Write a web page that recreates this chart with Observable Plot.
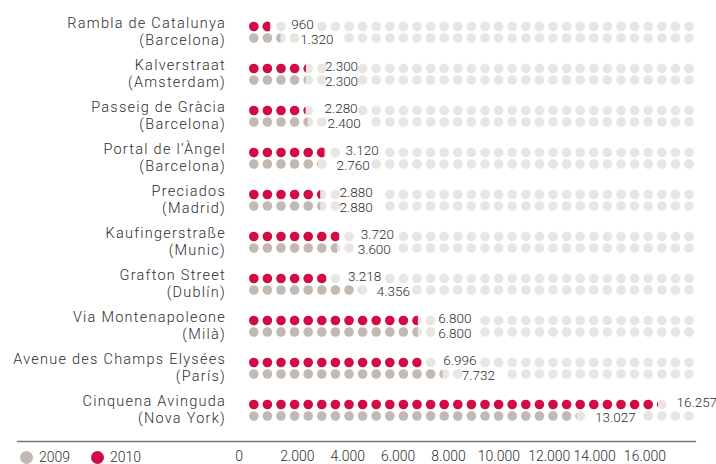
<!DOCTYPE html>
<html>
<head>
<meta charset="utf-8">
<script src="https://cdn.jsdelivr.net/npm/d3@7"></script>
<script src="https://cdn.jsdelivr.net/npm/@observablehq/plot@0.6"></script>
<style>
  html, body { margin: 0; padding: 0; background: #fff; }
  #wrap { position: relative; width: 716px; height: 464px; overflow: hidden; font-family: Roboto, sans-serif; }
  #legend { position: absolute; left: 20px; top: 449px; display: flex; align-items: center; font: 300 14px Roboto, sans-serif; color: #333; }
  #legend .item { display: flex; align-items: center; margin-right: 21px; }
  #legend .sw { width: 13px; height: 13px; border-radius: 50%; margin-right: 6px; }
  .cat text, .cat tspan, text.cat { letter-spacing: 1.25px; }
</style>
</head>
<body>
<div id="wrap"><div id="chart"></div><div id="legend"></div></div>
<script>
// ---- data ----
const streets = ["Rambla de Catalunya", "Kalverstraat", "Passeig de Gràcia", "Portal de l’Àngel", "Preciados",
  "Kaufingerstraße", "Grafton Street", "Via Montenapoleone", "Avenue des Champs Elysées", "Cinquena Avinguda"];
const cities = ["(Barcelona)", "(Amsterdam)", "(Barcelona)", "(Barcelona)", "(Madrid)",
  "(Munic)", "(Dublín)", "(Milà)", "(París)", "(Nova York)"];
const values2010 = [960, 2300, 2280, 3120, 2880, 3720, 3218, 6800, 6996, 16257];
const values2009 = [1320, 2300, 2400, 2760, 2880, 3600, 4356, 6800, 7732, 13027];
const years = ["2009", "2010"];
const yearColors = ["#c2b9b3", "#d30b45"];
const emptyColor = "#e8e5e3";
const tickValues = [0, 2000, 4000, 6000, 8000, 10000, 12000, 14000, 16000];
const unit = 540;      // value represented by one dot
const nDots = 33;

// ---- helpers ----
const fmt = d3.formatLocale({decimal: ",", thousands: ".", grouping: [3], currency: ["", "€"]}).format(",d");
const xDomain = [0, 18000];
const xRange = [246.5, 246.5 + 18000 * 13.6 / unit];
const xpx = d3.scaleLinear(xDomain, xRange);
const valueFontSize = 13.5;
const ctx = document.createElement("canvas").getContext("2d");
ctx.font = `300 ${valueFontSize}px Roboto`;
const labelDx = 20;

const series = [
  {year: "2010", values: values2010, color: yearColors[1], dy: 0, ldy: -1.5},
  {year: "2009", values: values2009, color: yearColors[0], dy: 11.5, ldy: 13.5}
];

function segment(f) {
  return {
    draw(context, size) {
      const r = Math.sqrt(size / Math.PI);
      const xc = -r + 2 * r * f;
      const th = Math.acos(Math.max(-1, Math.min(1, xc / r)));
      context.moveTo(r * Math.cos(th), r * Math.sin(th));
      context.arc(0, 0, r, th, 2 * Math.PI - th);
      context.closePath();
    }
  };
}

const marks = [];
for (const s of series) {
  const labels = streets.map((name, i) => {
    const v = s.values[i];
    const text = fmt(v);
    const start = xpx(v) + labelDx;
    return {name, v, text, start, end: start + ctx.measureText(text).width};
  });
  const dots = [];
  labels.forEach((L) => {
    for (let k = 0; k < nDots; ++k) {
      const lo = k * unit, hi = (k + 1) * unit;
      const xv = (k + 0.5) * unit;
      const c = xpx(xv);
      const hidden = c > L.start - 3 && c < L.end + 4;
      if (hidden) continue;
      const state = hi <= L.v ? "full" : lo < L.v ? "partial" : "empty";
      dots.push({name: L.name, xv, state, f: (L.v - lo) / unit});
    }
  });
  marks.push(Plot.dot(dots.filter(d => d.state !== "full"), {x: "xv", y: "name", r: 4.8, fill: emptyColor, stroke: "none", dy: s.dy}));
  marks.push(Plot.dot(dots.filter(d => d.state === "full"), {x: "xv", y: "name", r: 4.8, fill: s.color, stroke: "none", dy: s.dy}));
  for (const d of dots.filter(d => d.state === "partial")) {
    marks.push(Plot.dot([d], {x: "xv", y: "name", r: 4.8, fill: s.color, stroke: "none", symbol: segment(d.f), dy: s.dy}));
  }
  marks.push(Plot.text(labels, {x: "v", y: "name", text: "text", dx: labelDx, dy: s.ldy, textAnchor: "start",
    fontSize: valueFontSize, fontWeight: 300, fill: "#2e2e2e"}));
}

const groups = streets.map((name, i) => ({name, label: name + "\n" + cities[i]}));
marks.push(Plot.text(groups, {y: "name", text: "label", frameAnchor: "left", dx: 208.5, textAnchor: "end",
  lineHeight: 1.172, dy: 4.1, fontSize: 14.5, fontWeight: 300, fill: "#2e2e2e", className: "cat"}));

marks.push(Plot.frame({anchor: "bottom", stroke: "#777", strokeWidth: 1.3}));
const axisOpts = {tickSize: 0, tickPadding: 9.5, tickFormat: fmt, fontSize: 14, fontWeight: 300, label: null, color: "#2e2e2e"};
marks.push(Plot.axisX(tickValues.filter(t => t === 0), {...axisOpts, dx: -8}));
marks.push(Plot.axisX(tickValues.filter(t => t > 0 && t < 14000), axisOpts));
marks.push(Plot.axisX(tickValues.filter(t => t >= 14000), {...axisOpts, dx: -5}));

const chart = Plot.plot({
  width: 716,
  height: 464,
  marginLeft: 17,
  marginRight: 21,
  marginTop: 0,
  marginBottom: 23,
  style: {fontFamily: "Roboto, sans-serif", background: "#fff", overflow: "hidden"},
  x: {type: "linear", domain: xDomain, range: xRange, label: null},
  y: {type: "point", domain: streets, range: [23.7, 406.2], padding: 0, axis: null},
  marks
});
document.getElementById("chart").appendChild(chart);

// legend
const legend = d3.select("#legend");
years.forEach((y, i) => {
  const item = legend.append("div").attr("class", "item");
  item.append("div").attr("class", "sw").style("background", yearColors[i]);
  item.append("span").text(y);
});
</script>
</body>
</html>
